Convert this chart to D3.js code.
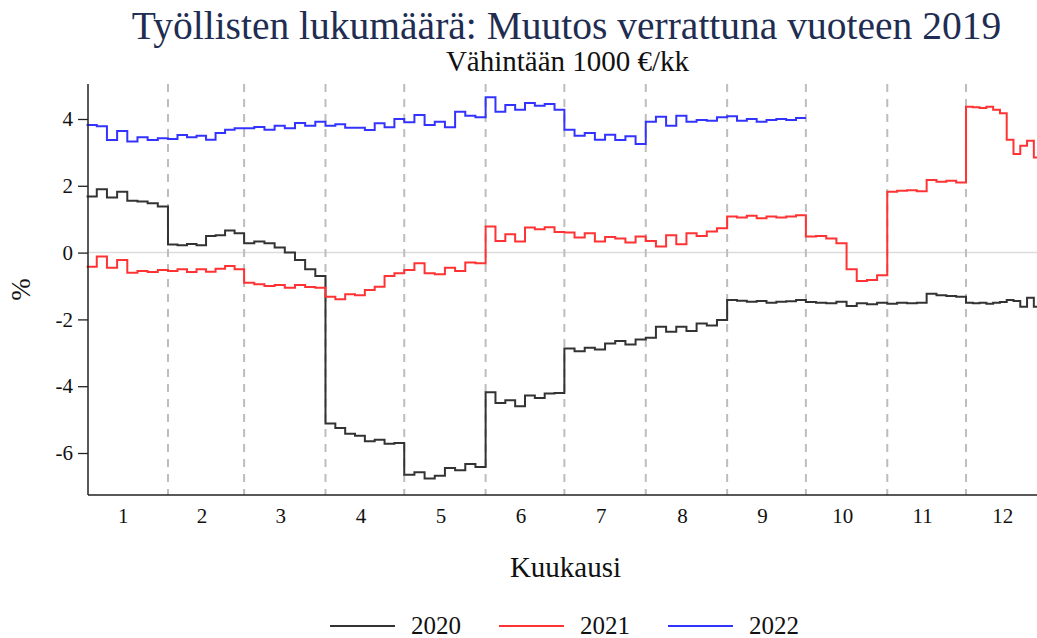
<!DOCTYPE html>
<html>
<head>
<meta charset="utf-8">
<script src="https://cdn.jsdelivr.net/npm/d3@7"></script>
<style>
    body { margin: 0; background: #fff; }
    svg { display: block; font-family: "Liberation Serif", "Times New Roman", serif; }
</style>
</head>
<body>
<svg id="chart" width="1037" height="638"></svg>
<script>
/* Työllisten lukumäärä, muutos vuoteen 2019 */

var monthLabels = ["1", "2", "3", "4", "5", "6", "7", "8", "9", "10", "11", "12"];
var monthDays = [31, 29, 31, 30, 31, 30, 31, 31, 30, 31, 30, 31];
var yTicks = [-6, -4, -2, 0, 2, 4];
var years = ["2020", "2021", "2022"];
var colors = ["#333333", "#ff3333", "#3333ff"];

// values per month, spread evenly over the month's days (%)
var values2020 = [
    [1.68, 1.90, 1.65, 1.82, 1.55, 1.53, 1.48, 1.38],
    [0.24, 0.22, 0.26, 0.22, 0.50, 0.52, 0.66, 0.58],
    [0.28, 0.33, 0.28, 0.15, 0.0, -0.22, -0.50, -0.70],
    [-5.12, -5.25, -5.42, -5.48, -5.65, -5.60, -5.72, -5.70],
    [-6.65, -6.58, -6.76, -6.68, -6.45, -6.52, -6.33, -6.42],
    [-4.18, -4.50, -4.42, -4.60, -4.28, -4.35, -4.22, -4.20],
    [-2.87, -2.95, -2.85, -2.90, -2.72, -2.65, -2.75, -2.60],
    [-2.55, -2.22, -2.37, -2.22, -2.35, -2.12, -2.18, -2.02],
    [-1.42, -1.44, -1.47, -1.45, -1.50, -1.47, -1.46, -1.42],
    [-1.48, -1.50, -1.52, -1.47, -1.60, -1.52, -1.55, -1.50],
    [-1.53, -1.50, -1.52, -1.50, -1.23, -1.28, -1.30, -1.32],
    [-1.50, -1.52, -1.50, -1.53, -1.50, -1.48, -1.42, -1.45, -1.62, -1.35, -1.62, -1.65]
];

var values2021 = [
    [-0.42, -0.12, -0.45, -0.22, -0.60, -0.55, -0.58, -0.52],
    [-0.55, -0.50, -0.58, -0.50, -0.57, -0.48, -0.40, -0.50],
    [-0.90, -0.95, -1.00, -0.97, -1.05, -0.97, -1.03, -1.05],
    [-1.32, -1.40, -1.25, -1.28, -1.12, -1.02, -0.70, -0.62],
    [-0.52, -0.32, -0.62, -0.65, -0.45, -0.55, -0.30, -0.32],
    [0.78, 0.35, 0.55, 0.33, 0.75, 0.70, 0.76, 0.62],
    [0.60, 0.45, 0.58, 0.33, 0.47, 0.42, 0.30, 0.48],
    [0.35, 0.18, 0.52, 0.25, 0.58, 0.50, 0.63, 0.73],
    [1.08, 1.05, 1.10, 1.03, 1.08, 1.05, 1.08, 1.12],
    [0.48, 0.50, 0.42, 0.28, -0.50, -0.85, -0.82, -0.68],
    [1.82, 1.85, 1.87, 1.84, 2.17, 2.12, 2.15, 2.10],
    [4.37, 4.35, 4.33, 4.37, 4.28, 4.17, 3.38, 2.95, 3.20, 3.35, 2.85, 2.80]
];

var values2022 = [
    [3.82, 3.78, 3.37, 3.64, 3.33, 3.45, 3.37, 3.42],
    [3.40, 3.52, 3.45, 3.50, 3.38, 3.58, 3.68, 3.72],
    [3.72, 3.76, 3.68, 3.80, 3.72, 3.88, 3.80, 3.92],
    [3.80, 3.84, 3.74, 3.74, 3.67, 3.87, 3.75, 4.00],
    [3.90, 4.12, 3.82, 3.92, 3.75, 4.22, 4.10, 4.05],
    [4.65, 4.22, 4.42, 4.28, 4.48, 4.40, 4.45, 4.28],
    [3.68, 3.50, 3.58, 3.38, 3.53, 3.37, 3.48, 3.25],
    [3.92, 4.07, 3.80, 4.10, 3.92, 3.97, 3.95, 4.05],
    [4.08, 3.95, 4.00, 3.92, 3.97, 4.00, 3.97, 4.03]
];

var allValues = [values2020, values2021, values2022];

var svg = d3.select("#chart");

var x = d3.scaleLinear().domain([0, 366]).range([86.6, 1047.4]);
var y = d3.scaleLinear().domain([-6, 4]).range([453, 119]);
var plotLeft = 88, plotTop = 84, plotBottom = 495, plotRight = 1047;

// month start days
var monthStart = [0];
monthDays.forEach(function (d, i) { monthStart.push(monthStart[i] + d); });

function toPoints(months) {
    var pts = [];
    months.forEach(function (vals, m) {
        var step = monthDays[m] / vals.length;
        vals.forEach(function (v, i) {
            pts.push([monthStart[m] + i * step, v]);
        });
    });
    var last = months.length - 1;
    pts.push([monthStart[last + 1], months[last][months[last].length - 1]]);
    return pts;
}

// zero line
svg.append("line")
    .attr("x1", plotLeft).attr("x2", plotRight)
    .attr("y1", y(0)).attr("y2", y(0))
    .attr("stroke", "#dcdcdc").attr("stroke-width", 1.5);

// month boundaries
svg.selectAll(".month-sep")
    .data(monthStart.slice(1, 12))
    .enter()
    .append("line")
    .attr("class", "month-sep")
    .attr("x1", function (d) { return x(d); })
    .attr("x2", function (d) { return x(d); })
    .attr("y1", plotTop)
    .attr("y2", plotBottom)
    .attr("stroke", "#bdbdbd")
    .attr("stroke-width", 2)
    .attr("stroke-dasharray", "8,7");

// series
var line = d3.line()
    .x(function (d) { return x(d[0]); })
    .y(function (d) { return y(d[1]); })
    .curve(d3.curveStepAfter);

allValues.forEach(function (months, i) {
    svg.append("path")
        .datum(toPoints(months))
        .attr("fill", "none")
        .attr("stroke", colors[i])
        .attr("stroke-width", 2)
        .attr("stroke-linejoin", "miter")
        .attr("d", line);
});

// y axis
var yAxis = svg.append("g")
    .attr("transform", "translate(" + plotLeft + ",0)")
    .call(d3.axisLeft(y).tickValues(yTicks).tickSize(10).tickPadding(5)
        .tickFormat(function (d) { return String(d); }));
yAxis.select(".domain").remove();
yAxis.selectAll("line").attr("stroke", "#222").attr("stroke-width", 1.3);
yAxis.selectAll("text").attr("font-family", "Liberation Serif").attr("font-size", 21).attr("fill", "#111");

svg.append("line")
    .attr("x1", plotLeft).attr("x2", plotLeft)
    .attr("y1", plotTop).attr("y2", plotBottom)
    .attr("stroke", "#222").attr("stroke-width", 1.5);
svg.append("line")
    .attr("x1", plotLeft).attr("x2", plotRight)
    .attr("y1", plotBottom).attr("y2", plotBottom)
    .attr("stroke", "#222").attr("stroke-width", 1.5);

// month labels
svg.selectAll(".month-label")
    .data(monthLabels)
    .enter()
    .append("text")
    .attr("class", "month-label")
    .attr("x", function (d, i) { return x(monthStart[i] + monthDays[i] / 2 - 1.5); })
    .attr("y", 523)
    .attr("text-anchor", "middle")
    .attr("font-size", 21)
    .attr("fill", "#111")
    .text(function (d) { return d; });

// titles
var cx = (plotLeft + plotRight) / 2;
svg.append("text")
    .attr("x", cx - 1).attr("y", 39)
    .attr("text-anchor", "middle")
    .attr("font-size", 39.5)
    .attr("fill", "#1f2d52")
    .text("Työllisten lukumäärä: Muutos verrattuna vuoteen 2019");
svg.append("text")
    .attr("x", cx).attr("y", 71)
    .attr("text-anchor", "middle")
    .attr("font-size", 29)
    .attr("fill", "#111")
    .text("Vähintään 1000 €/kk");

svg.append("text")
    .attr("x", cx - 2).attr("y", 577)
    .attr("text-anchor", "middle")
    .attr("font-size", 29)
    .attr("fill", "#111")
    .text("Kuukausi");

svg.append("text")
    .attr("transform", "translate(30," + ((plotTop + plotBottom) / 2) + ") rotate(-90)")
    .attr("text-anchor", "middle")
    .attr("font-size", 27)
    .attr("fill", "#111")
    .text("%");

// legend
var legendX = [330, 499, 668];
var legend = svg.selectAll(".legend")
    .data(years)
    .enter()
    .append("g")
    .attr("class", "legend")
    .attr("transform", function (d, i) { return "translate(" + legendX[i] + ",626)"; });
legend.append("line")
    .attr("x1", 0).attr("x2", 65)
    .attr("stroke", function (d, i) { return colors[i]; })
    .attr("stroke-width", 2);
legend.append("text")
    .attr("x", 81).attr("y", 8)
    .attr("font-size", 25)
    .attr("fill", "#111")
    .text(function (d) { return d; });
</script>
</body>
</html>
